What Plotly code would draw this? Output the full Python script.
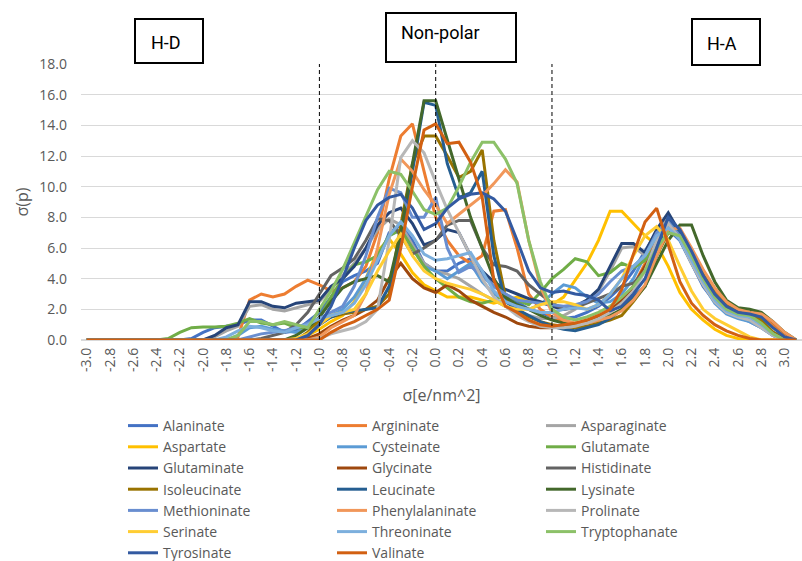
import plotly.graph_objects as go

sigma = [round(-3.0 + 0.1 * i, 1) for i in range(62)]
tick_vals = [round(-3.0 + 0.2 * i, 1) for i in range(31)]
tick_text = [f"{v:.1f}" for v in tick_vals]

Z = [0.0]

alaninate = Z*9 + [0.1, 0.5, 0.8, 0.9, 1.0, 1.3, 1.3, 0.9, 0.5, 0.6, 1.2] + \
    [1.8, 2.8, 3.8, 4.2, 4.5, 5.0, 7.0, 7.5, 6.5, 5.0, 4.5, 4.5, 5.0, 5.3, 4.2, 3.5, 3.0, 2.5, 2.0, 1.8, 1.5] + \
    [1.4, 1.5, 1.8, 2.2, 2.8, 3.5, 4.5, 5.8, 7.0, 7.2, 6.5, 5.0, 3.5, 2.5, 1.8, 1.5, 1.2, 0.8, 0.3, 0.0, 0.0]
argininate = Z*13 + [0.2, 2.6, 3.0, 2.8, 3.0, 3.5, 3.9] + \
    [3.6, 3.2, 3.4, 3.8, 4.8, 7.0, 10.5, 13.3, 14.1, 11.0, 8.0, 6.5, 5.5, 5.0, 5.5, 8.4, 8.5, 6.0, 3.0, 2.0, 1.5] + \
    [1.2, 1.1, 1.2, 1.4, 1.8, 2.5, 3.5, 5.0, 6.8, 7.5, 6.8, 5.6, 4.4, 3.2, 2.3, 1.9, 1.8, 1.6, 1.0, 0.4, 0.0]
asparaginate = Z*11 + [0.2, 0.6, 0.9, 2.2, 2.3, 2.0, 1.9, 2.1, 2.3] + \
    [2.5, 3.3, 4.2, 5.0, 6.0, 7.2, 7.9, 7.5, 6.2, 5.0, 4.5, 4.3, 4.0, 3.5, 3.0, 2.6, 2.2, 1.9, 1.6, 1.4, 1.4] + \
    [1.6, 2.0, 2.6, 3.2, 4.5, 6.0, 6.1, 5.5, 6.8, 8.0, 6.8, 5.2, 3.8, 2.6, 1.9, 1.6, 1.5, 1.0, 0.4, 0.0, 0.0]
aspartate = Z*18 + [0.1, 0.3] + \
    [0.7, 1.2, 1.6, 2.5, 4.0, 5.8, 6.6, 5.6, 4.4, 3.6, 3.2, 2.8, 2.8, 2.8, 2.6, 2.4, 2.6, 2.8, 2.6, 2.4, 2.3] + \
    [2.8, 3.9, 5.0, 6.5, 8.4, 8.4, 7.6, 6.8, 6.2, 4.8, 3.1, 2.0, 1.3, 0.7, 0.3, 0.1, 0.0, 0.0, 0.0, 0.0, 0.0]
cysteinate = Z*13 + [0.3, 0.8, 0.9, 0.7, 0.6, 0.5, 0.9] + \
    [1.3, 1.6, 2.0, 2.8, 4.0, 5.5, 6.8, 7.2, 6.0, 4.8, 4.5, 4.0, 4.5, 5.0, 3.8, 3.0, 2.6, 2.2, 2.0, 2.3, 3.0] + \
    [3.6, 3.4, 2.8, 2.4, 2.5, 3.0, 4.0, 5.5, 6.8, 7.5, 6.5, 5.0, 3.6, 2.4, 1.7, 1.4, 1.2, 0.8, 0.3, 0.0, 0.0]
glutamate = Z*7 + [0.1, 0.5, 0.8, 0.85, 0.85, 0.9, 1.1, 1.4, 1.1, 1.0, 1.1, 0.8, 0.8] + \
    [1.4, 2.8, 4.0, 4.9, 5.1, 5.5, 6.8, 7.2, 6.0, 4.8, 4.0, 3.4, 2.8, 2.5, 2.4, 2.6, 2.9, 2.6, 2.3, 3.1, 4.0] + \
    [4.6, 5.3, 5.1, 4.2, 4.4, 5.0, 4.7, 5.2, 6.2, 7.2, 7.0, 5.6, 4.2, 3.0, 2.2, 1.9, 1.8, 1.3, 0.5, 0.1, 0.0]
glutaminate = Z*11 + [0.3, 0.8, 1.0, 2.5, 2.5, 2.2, 2.1, 2.4, 2.5] + \
    [2.6, 3.5, 4.0, 4.8, 6.0, 7.5, 8.3, 8.6, 7.6, 6.2, 6.5, 7.2, 7.0, 5.5, 4.5, 3.8, 3.3, 3.0, 2.7, 2.5, 2.2] + \
    [2.0, 2.2, 2.6, 3.3, 4.8, 6.3, 6.3, 5.7, 7.2, 8.3, 7.0, 5.5, 4.0, 2.8, 2.0, 1.7, 1.5, 1.0, 0.4, 0.0, 0.0]
glycinate = Z*19 + [0.1] + \
    [0.4, 0.9, 1.3, 1.6, 2.0, 2.6, 4.0, 5.0, 4.0, 3.4, 3.1, 3.6, 3.2, 2.6, 2.2, 1.8, 1.5, 1.1, 0.9, 0.8, 0.8] + \
    [0.9, 1.0, 1.2, 1.5, 1.9, 2.6, 3.5, 4.8, 6.0, 7.0, 6.8, 5.5, 4.0, 2.8, 2.0, 1.6, 1.5, 1.2, 0.5, 0.1, 0.0]
histidinate = Z*15 + [0.1, 0.3, 0.5, 1.0, 1.8] + \
    [3.0, 4.2, 4.7, 5.3, 6.5, 7.9, 7.8, 6.8, 5.6, 6.0, 6.5, 7.5, 7.8, 7.8, 6.0, 4.9, 4.8, 4.5, 3.6, 3.0, 2.4] + \
    [2.0, 2.1, 2.4, 2.7, 3.0, 3.5, 3.7, 4.5, 6.5, 7.8, 7.0, 5.5, 4.0, 2.8, 2.0, 1.7, 1.6, 1.0, 0.4, 0.0, 0.0]
isoleucinate = Z*19 + [0.5] + \
    [1.3, 1.5, 1.7, 1.8, 2.0, 2.2, 3.0, 7.5, 11.5, 13.3, 13.3, 12.0, 10.6, 11.0, 12.4, 6.5, 2.8, 2.0, 1.5, 1.2, 1.0] + \
    [0.9, 0.8, 0.9, 1.1, 1.3, 1.6, 2.5, 3.5, 5.5, 7.0, 7.1, 5.8, 4.3, 3.0, 2.2, 1.9, 1.8, 1.3, 0.5, 0.1, 0.0]
leucinate = Z*19 + [0.3] + \
    [1.0, 1.5, 1.8, 1.9, 2.0, 2.1, 3.5, 6.5, 11.0, 15.5, 15.3, 11.5, 9.3, 9.6, 11.0, 5.5, 2.5, 2.0, 1.6, 1.2, 0.9] + \
    [0.7, 0.6, 0.8, 1.0, 1.4, 2.0, 2.8, 3.5, 5.5, 8.0, 7.0, 5.5, 4.0, 2.8, 2.0, 1.8, 1.6, 1.0, 0.4, 0.0, 0.0]
lysinate = Z*18 + [0.3, 0.8] + \
    [1.5, 2.5, 3.4, 3.8, 4.0, 4.2, 3.8, 7.0, 11.5, 15.6, 15.6, 13.0, 10.5, 8.0, 6.0, 4.0, 2.8, 2.3, 2.0, 1.6, 1.3] + \
    [1.1, 1.0, 1.1, 1.3, 1.6, 2.0, 2.6, 3.5, 5.0, 6.5, 7.5, 7.5, 5.5, 3.8, 2.6, 2.1, 2.0, 1.8, 1.2, 0.5, 0.0]
methioninate = Z*14 + [0.2, 0.4, 0.5, 0.6, 0.8, 1.1] + \
    [1.4, 1.8, 2.2, 3.5, 5.5, 8.0, 9.9, 9.6, 8.0, 8.0, 9.3, 6.0, 4.4, 4.8, 4.2, 3.5, 3.0, 2.6, 2.5, 2.4, 2.3] + \
    [2.2, 2.3, 2.5, 3.0, 3.8, 4.5, 4.8, 5.5, 7.0, 7.7, 6.8, 5.2, 3.8, 2.7, 1.9, 1.6, 1.4, 0.9, 0.3, 0.0, 0.0]
phenylalaninate = Z*20 + \
    [0.2, 0.8, 1.2, 1.6, 3.0, 6.0, 9.5, 11.8, 11.0, 9.8, 8.8, 7.6, 8.2, 8.8, 9.4, 10.2, 11.1, 10.3, 6.5, 3.5, 1.8] + \
    [1.3, 1.1, 1.1, 1.3, 1.5, 1.9, 2.6, 3.6, 5.5, 7.2, 7.3, 6.0, 4.6, 3.4, 2.5, 2.0, 1.8, 1.7, 1.2, 0.5, 0.0]
prolinate = Z*20 + \
    [0.1, 0.4, 0.6, 0.8, 1.2, 2.0, 6.5, 11.9, 13.0, 12.2, 10.3, 8.5, 7.0, 5.5, 4.0, 2.8, 2.2, 1.6, 1.2, 0.9, 0.8] + \
    [0.8, 0.9, 1.1, 1.4, 1.8, 2.4, 3.2, 4.5, 6.5, 7.6, 6.6, 5.0, 3.6, 2.5, 1.8, 1.5, 1.3, 0.8, 0.3, 0.0, 0.0]
serinate = Z*18 + [0.1, 0.4] + \
    [1.0, 1.6, 1.8, 2.0, 3.0, 4.5, 5.8, 6.9, 5.5, 4.5, 4.0, 3.7, 3.5, 3.3, 3.0, 2.6, 2.2, 2.0, 2.0, 2.3, 2.5] + \
    [2.5, 2.3, 2.0, 2.3, 3.0, 4.0, 5.5, 6.8, 7.4, 6.5, 4.8, 3.2, 2.0, 1.4, 1.0, 0.6, 0.2, 0.0, 0.0, 0.0, 0.0]
threoninate = Z*12 + [0.2, 0.6, 0.9, 0.8, 0.6, 0.5, 0.8, 1.0] + \
    [1.4, 1.6, 1.8, 2.4, 3.6, 5.2, 6.8, 7.7, 6.8, 5.6, 5.2, 5.3, 5.5, 5.7, 4.5, 3.2, 2.5, 2.2, 2.0, 1.8, 1.8] + \
    [2.0, 2.1, 2.0, 2.3, 3.0, 4.0, 4.8, 5.5, 6.8, 7.3, 6.6, 5.2, 3.8, 2.6, 1.9, 1.6, 1.5, 1.0, 0.4, 0.0, 0.0]
tryptophanate = Z*13 + [0.3, 1.2, 1.2, 1.0, 1.2, 1.0, 0.8] + \
    [2.0, 3.2, 4.6, 6.3, 8.0, 9.8, 11.0, 10.8, 9.7, 8.5, 8.2, 8.6, 10.0, 11.6, 12.9, 12.9, 11.8, 10.2, 6.5, 3.8, 2.0] + \
    [1.5, 1.3, 1.5, 1.8, 2.2, 2.8, 3.5, 4.5, 6.0, 7.0, 6.8, 5.5, 4.0, 2.8, 2.0, 1.7, 1.6, 1.1, 0.4, 0.0, 0.0]
tyrosinate = Z*19 + [0.3] + \
    [1.0, 2.2, 4.0, 6.0, 7.8, 8.8, 9.3, 9.5, 8.6, 7.2, 7.6, 8.6, 9.2, 9.5, 9.6, 9.2, 8.4, 6.5, 4.5, 3.4, 3.1] + \
    [3.2, 3.0, 2.9, 2.6, 1.9, 2.2, 3.0, 4.0, 6.0, 8.0, 7.2, 5.8, 4.2, 3.0, 2.2, 1.8, 1.7, 1.5, 0.8, 0.2, 0.0]
valinate = Z*20 + \
    [0.0, 0.5, 0.9, 1.2, 1.6, 2.0, 2.6, 6.0, 10.0, 13.7, 14.1, 12.8, 12.9, 11.6, 9.3, 3.9, 2.2, 1.8, 1.3, 1.0, 0.9] + \
    [1.0, 1.1, 1.3, 1.6, 2.0, 3.3, 5.6, 7.7, 8.6, 6.2, 3.8, 2.4, 1.6, 1.0, 0.6, 0.3, 0.1, 0.0, 0.0, 0.0, 0.0]

names = ["Alaninate", "Argininate", "Asparaginate", "Aspartate", "Cysteinate", "Glutamate",
         "Glutaminate", "Glycinate", "Histidinate", "Isoleucinate", "Leucinate", "Lysinate",
         "Methioninate", "Phenylalaninate", "Prolinate", "Serinate", "Threoninate", "Tryptophanate",
         "Tyrosinate", "Valinate"]
series = [alaninate, argininate, asparaginate, aspartate, cysteinate, glutamate,
          glutaminate, glycinate, histidinate, isoleucinate, leucinate, lysinate,
          methioninate, phenylalaninate, prolinate, serinate, threoninate, tryptophanate,
          tyrosinate, valinate]
colors = ["#4472C4", "#ED7D31", "#A5A5A5", "#FFC000", "#5B9BD5", "#70AD47",
          "#264478", "#9E480E", "#636363", "#997300", "#255E91", "#43682B",
          "#698ED0", "#F1975A", "#B7B7B7", "#FFCD33", "#7CAFDD", "#8CC168",
          "#335AA1", "#D26012"]

region_lines = [-1.0, 0.0, 1.0]
region_labels = ["H-D", "Non-polar", "H-A"]

fig = go.Figure()
for n, s, c in zip(names, series, colors):
    fig.add_trace(go.Scatter(x=sigma, y=s, name=n, mode="lines",
                             line=dict(color=c, width=3)))

for xv in region_lines:
    fig.add_shape(type="line", xref="x", yref="y", x0=xv, x1=xv, y0=0, y1=18,
                  line=dict(color="black", width=1, dash="4px,3px"))

W, H = 802, 561
L, R, T, B = 81, 0, 64, 221
pw, ph = W - L - R, H - T - B

def px(x):
    return (x - L) / pw

def py(y):
    return (H - B - y) / ph

boxes = [(135, 19, 203, 63, region_labels[0], 149, 42),
         (386, 13, 516, 62, region_labels[1], 399, 33),
         (692, 19, 760, 65, region_labels[2], 705, 43)]
for x0, y0, x1, y1, label, tx, ty in boxes:
    fig.add_shape(type="rect", xref="paper", yref="paper", x0=px(x0), x1=px(x1),
                  y0=py(y1), y1=py(y0), line=dict(color="black", width=2),
                  fillcolor="white", layer="above")
    fig.add_annotation(xref="paper", yref="paper", x=px(tx), y=py(ty), xanchor="left",
                       yanchor="middle", text=label, showarrow=False,
                       font=dict(family="Roboto", size=18, color="black"))

fig.update_layout(
    width=W, height=H,
    margin=dict(l=L, r=R, t=T, b=B, pad=0, autoexpand=False),
    plot_bgcolor="white", paper_bgcolor="white",
    font=dict(family="Open Sans", color="#595959", size=14),
    showlegend=True,
    legend=dict(orientation="h", x=123 / W, y=1 - 410 / H, xanchor="left", yanchor="top",
                xref="container", yref="container", entrywidth=164, entrywidthmode="pixels",
                font=dict(family="Open Sans", size=14, color="#595959"),
                tracegroupgap=0, itemwidth=30),
    xaxis=dict(range=[-3.05, 3.15], tickmode="array", tickvals=tick_vals, ticktext=tick_text,
               tickangle=-90, showgrid=False, zeroline=False, showline=False,
               ticklabelstandoff=4, automargin=False,
               tickfont=dict(size=14, color="#595959"),
               title=dict(text="σ[e/nm^2]", font=dict(size=16, color="#595959"), standoff=18)),
    yaxis=dict(range=[0, 18], dtick=2, tickformat=".1f", showgrid=True, gridcolor="#D9D9D9",
               gridwidth=1, zeroline=True, zerolinecolor="#D9D9D9", showline=False,
               tickfont=dict(size=14, color="#595959"), ticks="", ticklen=0,
               ticklabelstandoff=13, automargin=False,
               title=dict(text="σ(p)", font=dict(size=16, color="#595959"), standoff=6)),
)

fig.write_html("out.html", config={"displayModeBar": False},
               post_script="document.body.style.margin='0px';")
